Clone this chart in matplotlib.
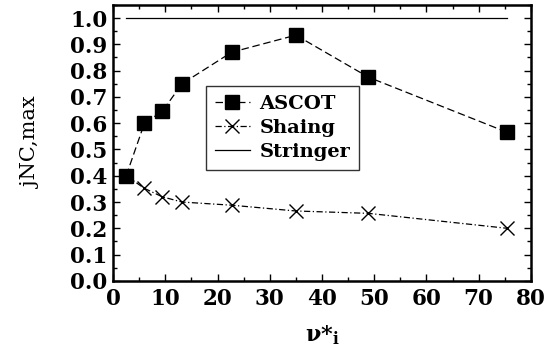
import matplotlib
matplotlib.use('Agg')
import matplotlib.pyplot as plt
from matplotlib.ticker import MultipleLocator

# data
nu_star = [2.5, 6.0, 9.4, 13.2, 22.7, 35.0, 48.9, 75.5]
ascot = [0.40, 0.60, 0.645, 0.75, 0.87, 0.935, 0.775, 0.565]
shaing = [0.40, 0.352, 0.32, 0.30, 0.288, 0.266, 0.257, 0.20]
stringer_x = [2.5, 75.5]
stringer = [1.0, 1.0]

plt.rcParams['font.family'] = ['DejaVu Serif']
plt.rcParams['mathtext.fontset'] = 'dejavuserif'

fig = plt.figure(figsize=(5.6, 3.52), dpi=100)
ax = fig.add_axes([0.202, 0.202, 0.746, 0.784])

ax.plot(nu_star, ascot, color='black', linestyle=(0, (6, 3)), linewidth=0.9,
        marker='s', markersize=10.5, markerfacecolor='black', label='ASCOT')
ax.plot(nu_star[1:], shaing[1:], color='black', linestyle=(0, (5, 2, 1, 2)), linewidth=0.9,
        marker='x', markersize=10, markeredgewidth=1.0, label='Shaing')
ax.plot(nu_star[:2], shaing[:2], color='black', linestyle=(0, (5, 2, 1, 2)), linewidth=0.9)
ax.plot(stringer_x, stringer, color='black', linestyle='-', linewidth=0.9, label='Stringer')

ax.set_xlim(0, 80)
ax.set_ylim(0, 1.05)
ax.xaxis.set_major_locator(MultipleLocator(10))
ax.xaxis.set_minor_locator(MultipleLocator(5))
ax.yaxis.set_major_locator(MultipleLocator(0.1))
ax.yaxis.set_minor_locator(MultipleLocator(0.05))
ax.yaxis.set_major_formatter(plt.FuncFormatter(lambda v, _: '%.1f' % v))
ax.tick_params(which='both', direction='in', top=True, right=True)
ax.tick_params(which='major', length=5, width=1, labelsize=15.5)
ax.tick_params(axis='x', which='major', pad=5)
ax.tick_params(axis='y', which='major', pad=4)
ax.tick_params(which='minor', length=3, width=1)
for lbl in ax.get_xticklabels() + ax.get_yticklabels():
    lbl.set_fontweight('bold')
for s in ax.spines.values():
    s.set_linewidth(1.8)

ax.set_xlabel(r'$\mathbf{\nu}$*$_\mathregular{i}$', fontsize=16, fontweight='bold', labelpad=10)
ax.set_ylabel('jNC,max', fontsize=15, labelpad=21)

leg = ax.legend(loc='upper left', bbox_to_anchor=(0.222, 0.705), fontsize=14,
                frameon=True, fancybox=False, edgecolor='black', handlelength=1.8,
                handletextpad=0.5, borderpad=0.45, labelspacing=0.3, borderaxespad=0)
leg.get_frame().set_linewidth(1.0)
for t in leg.get_texts():
    t.set_fontweight('bold')

fig.savefig('out.png', dpi=100)
